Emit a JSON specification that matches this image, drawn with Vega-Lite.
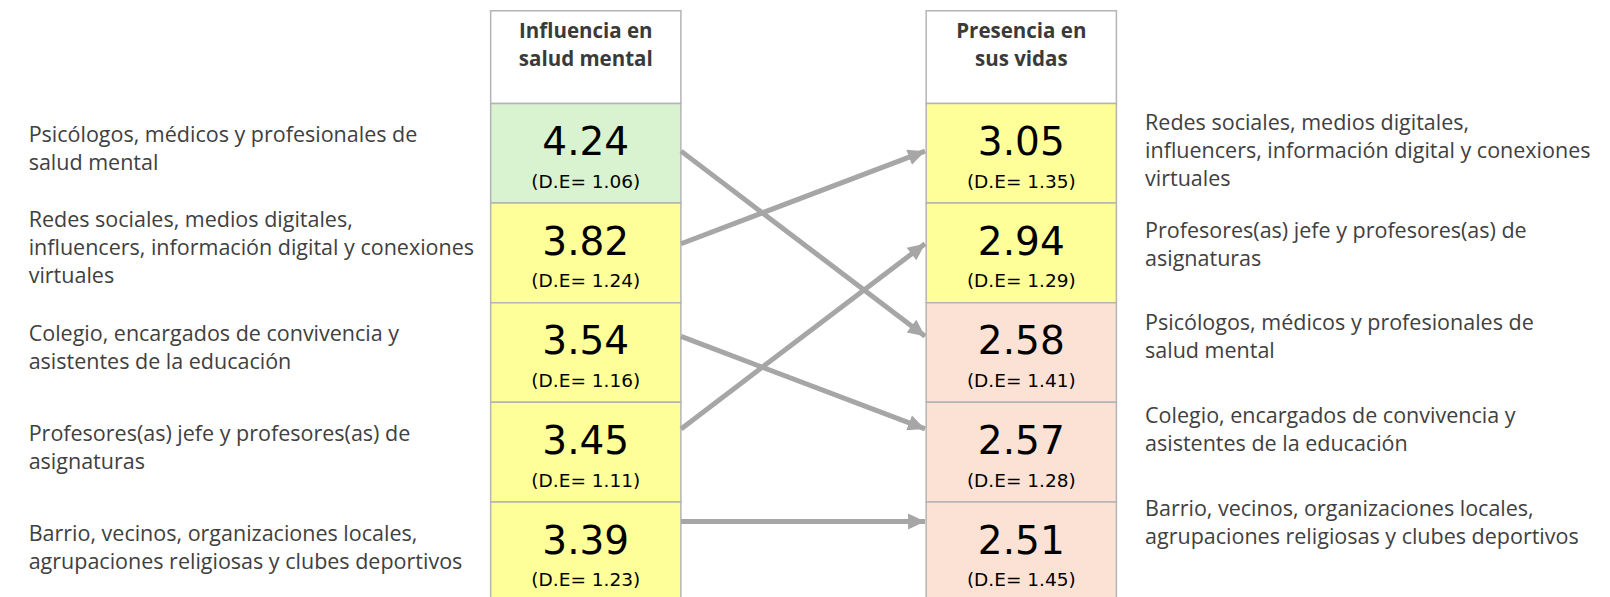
{
  "$schema": "https://vega.github.io/schema/vega-lite/v6.json",
  "width": 1610,
  "height": 597,
  "autosize": {"type": "none"},
  "padding": 0,
  "background": "white",
  "config": {"view": {"stroke": null}},
  "datasets": {
    "celdas": [
      {"panel": "Influencia en\nsalud mental", "agente": "Psicólogos, médicos y profesionales de\nsalud mental", "media": 4.24, "de": 1.06, "pos": 1},
      {"panel": "Influencia en\nsalud mental", "agente": "Redes sociales, medios digitales,\ninfluencers, información digital y conexiones\nvirtuales", "media": 3.82, "de": 1.24, "pos": 2},
      {"panel": "Influencia en\nsalud mental", "agente": "Colegio, encargados de convivencia y\nasistentes de la educación", "media": 3.54, "de": 1.16, "pos": 3},
      {"panel": "Influencia en\nsalud mental", "agente": "Profesores(as) jefe y profesores(as) de\nasignaturas", "media": 3.45, "de": 1.11, "pos": 4},
      {"panel": "Influencia en\nsalud mental", "agente": "Barrio, vecinos, organizaciones locales,\nagrupaciones religiosas y clubes deportivos", "media": 3.39, "de": 1.23, "pos": 5},
      {"panel": "Presencia en\nsus vidas", "agente": "Redes sociales, medios digitales,\ninfluencers, información digital y conexiones\nvirtuales", "media": 3.05, "de": 1.35, "pos": 1},
      {"panel": "Presencia en\nsus vidas", "agente": "Profesores(as) jefe y profesores(as) de\nasignaturas", "media": 2.94, "de": 1.29, "pos": 2},
      {"panel": "Presencia en\nsus vidas", "agente": "Psicólogos, médicos y profesionales de\nsalud mental", "media": 2.58, "de": 1.41, "pos": 3},
      {"panel": "Presencia en\nsus vidas", "agente": "Colegio, encargados de convivencia y\nasistentes de la educación", "media": 2.57, "de": 1.28, "pos": 4},
      {"panel": "Presencia en\nsus vidas", "agente": "Barrio, vecinos, organizaciones locales,\nagrupaciones religiosas y clubes deportivos", "media": 2.51, "de": 1.45, "pos": 5}
    ],
    "flechas": [
      {"agente": "Psicólogos, médicos y profesionales de salud mental", "pos_influencia": 1, "pos_presencia": 3, "cambio": 2},
      {"agente": "Redes sociales, medios digitales, influencers, información digital y conexiones virtuales", "pos_influencia": 2, "pos_presencia": 1, "cambio": -1},
      {"agente": "Colegio, encargados de convivencia y asistentes de la educación", "pos_influencia": 3, "pos_presencia": 4, "cambio": 1},
      {"agente": "Profesores(as) jefe y profesores(as) de asignaturas", "pos_influencia": 4, "pos_presencia": 2, "cambio": -2},
      {"agente": "Barrio, vecinos, organizaciones locales, agrupaciones religiosas y clubes deportivos", "pos_influencia": 5, "pos_presencia": 5, "cambio": 0}
    ]
  },
  "layer": [
    {
      "data": {"name": "celdas"},
      "encoding": {
        "x": {
          "field": "panel",
          "type": "nominal",
          "axis": null,
          "scale": {
            "type": "band",
            "domain": ["Agentes (según influencia)", "Influencia en\nsalud mental", "Presencia en\nsus vidas", "Agentes (según presencia)"],
            "paddingInner": 0.5632,
            "paddingOuter": 0.13,
            "align": 0.487
          }
        }
      },
      "layer": [
        {
          "transform": [{"aggregate": [{"op": "count", "as": "n"}], "groupby": ["panel"]}],
          "mark": {"type": "rect", "fill": "white", "stroke": "#b4b4b4", "strokeWidth": 1.5},
          "encoding": {
            "y": {"datum": -0.43, "type": "quantitative", "axis": null, "scale": {"domain": [-0.539, 5.455], "reverse": true, "zero": false, "nice": false}},
            "y2": {"datum": 0.5}
          }
        },
        {
          "transform": [{"aggregate": [{"op": "count", "as": "n"}], "groupby": ["panel"]}],
          "mark": {"type": "text", "font": "Open Sans", "fontWeight": "bold", "fontSize": 20.5, "color": "#3a3a3a", "lineBreak": "\n", "lineHeight": 28.5, "baseline": "middle", "align": "center"},
          "encoding": {
            "y": {"datum": -0.22, "type": "quantitative", "axis": null, "scale": {"domain": [-0.539, 5.455], "reverse": true, "zero": false, "nice": false}},
            "text": {"field": "panel", "type": "nominal"}
          }
        },
        {
          "mark": {"type": "rect", "height": 99.6, "stroke": "#b4b4b4", "strokeWidth": 1.5},
          "encoding": {
            "y": {"field": "pos", "type": "quantitative", "axis": null, "scale": {"domain": [-0.539, 5.455], "reverse": true, "zero": false, "nice": false}},
            "fill": {"field": "media", "type": "quantitative", "legend": null, "scale": {"type": "threshold", "domain": [2.75, 4], "range": ["#fbe2d5", "#ffff99", "#d9f2d0"]}}
          }
        },
        {
          "mark": {"type": "text", "font": "DejaVu Sans", "fontSize": 39, "color": "#000000", "baseline": "middle", "align": "center", "dy": -10},
          "encoding": {
            "y": {"field": "pos", "type": "quantitative", "axis": null, "scale": {"domain": [-0.539, 5.455], "reverse": true, "zero": false, "nice": false}},
            "text": {"field": "media", "type": "quantitative", "format": ".2f"}
          }
        },
        {
          "mark": {"type": "text", "font": "DejaVu Sans", "fontSize": 18.5, "color": "#000000", "baseline": "middle", "align": "center", "dy": 28.5, "text": {"expr": "'(D.E= ' + format(datum.de, '.2f') + ')'"}},
          "encoding": {
            "y": {"field": "pos", "type": "quantitative", "axis": null, "scale": {"domain": [-0.539, 5.455], "reverse": true, "zero": false, "nice": false}}
          }
        },
        {
          "transform": [{"filter": "indexof(datum.panel, 'Influencia') === 0 && length(split(datum.agente, '\\n')) < 3"}],
          "mark": {"type": "text", "font": "Open Sans", "fontSize": 21.5, "color": "#404040", "lineBreak": "\n", "lineHeight": 28, "baseline": "middle", "align": "left", "dx": -462, "dy": -17},
          "encoding": {
            "x": {"field": "panel", "type": "nominal", "bandPosition": 0, "axis": null},
            "y": {"field": "pos", "type": "quantitative", "axis": null, "scale": {"domain": [-0.539, 5.455], "reverse": true, "zero": false, "nice": false}},
            "text": {"field": "agente", "type": "nominal"}
          }
        },
        {
          "transform": [{"filter": "indexof(datum.panel, 'Influencia') === 0 && length(split(datum.agente, '\\n')) >= 3"}],
          "mark": {"type": "text", "font": "Open Sans", "fontSize": 21.5, "color": "#404040", "lineBreak": "\n", "lineHeight": 28, "baseline": "middle", "align": "left", "dx": -462, "dy": -32},
          "encoding": {
            "x": {"field": "panel", "type": "nominal", "bandPosition": 0, "axis": null},
            "y": {"field": "pos", "type": "quantitative", "axis": null, "scale": {"domain": [-0.539, 5.455], "reverse": true, "zero": false, "nice": false}},
            "text": {"field": "agente", "type": "nominal"}
          }
        }
      ]
    },
    {
      "layer": [
        {
          "data": {"name": "flechas"},
          "mark": {"type": "rule", "color": "#a6a6a6", "strokeWidth": 5, "strokeCap": "butt"},
          "encoding": {
            "x": {"datum": 0, "type": "quantitative", "axis": null, "scale": {"domain": [-2.791, 3.807], "zero": false, "nice": false}},
            "x2": {"datum": 1},
            "y": {"field": "pos_influencia", "type": "quantitative", "axis": null, "scale": {"domain": [-0.632, 5.815], "reverse": true, "zero": false, "nice": false}},
            "y2": {"field": "pos_presencia"}
          }
        },
        {
          "data": {"name": "flechas"},
          "mark": {"type": "point", "shape": "M0,0L-1,-0.47L-1,0.47Z", "filled": true, "color": "#a6a6a6", "opacity": 1, "size": 1156, "strokeWidth": 0},
          "encoding": {
            "x": {"datum": 1, "type": "quantitative", "axis": null, "scale": {"domain": [-2.791, 3.807], "zero": false, "nice": false}},
            "y": {"field": "pos_presencia", "type": "quantitative", "axis": null, "scale": {"domain": [-0.632, 5.815], "reverse": true, "zero": false, "nice": false}},
            "angle": {"field": "cambio", "type": "quantitative", "scale": {"type": "pow", "exponent": 0.84, "domain": [-2, 2], "range": [-37.2, 37.2]}}
          }
        },
        {
          "data": {"name": "celdas"},
          "transform": [{"filter": "indexof(datum.panel, 'Presencia') === 0 && length(split(datum.agente, '\\n')) < 3"}],
          "mark": {"type": "text", "font": "Open Sans", "fontSize": 21.5, "color": "#404040", "lineBreak": "\n", "lineHeight": 28, "baseline": "middle", "align": "left", "dx": 220, "dy": -12},
          "encoding": {
            "x": {"datum": 1, "type": "quantitative", "axis": null, "scale": {"domain": [-2.791, 3.807], "zero": false, "nice": false}},
            "y": {"field": "pos", "type": "quantitative", "axis": null, "scale": {"domain": [-0.632, 5.815], "reverse": true, "zero": false, "nice": false}},
            "text": {"field": "agente", "type": "nominal"}
          }
        },
        {
          "data": {"name": "celdas"},
          "transform": [{"filter": "indexof(datum.panel, 'Presencia') === 0 && length(split(datum.agente, '\\n')) >= 3"}],
          "mark": {"type": "text", "font": "Open Sans", "fontSize": 21.5, "color": "#404040", "lineBreak": "\n", "lineHeight": 28, "baseline": "middle", "align": "left", "dx": 220, "dy": -27},
          "encoding": {
            "x": {"datum": 1, "type": "quantitative", "axis": null, "scale": {"domain": [-2.791, 3.807], "zero": false, "nice": false}},
            "y": {"field": "pos", "type": "quantitative", "axis": null, "scale": {"domain": [-0.632, 5.815], "reverse": true, "zero": false, "nice": false}},
            "text": {"field": "agente", "type": "nominal"}
          }
        }
      ]
    }
  ],
  "resolve": {"scale": {"x": "independent", "y": "independent"}}
}
